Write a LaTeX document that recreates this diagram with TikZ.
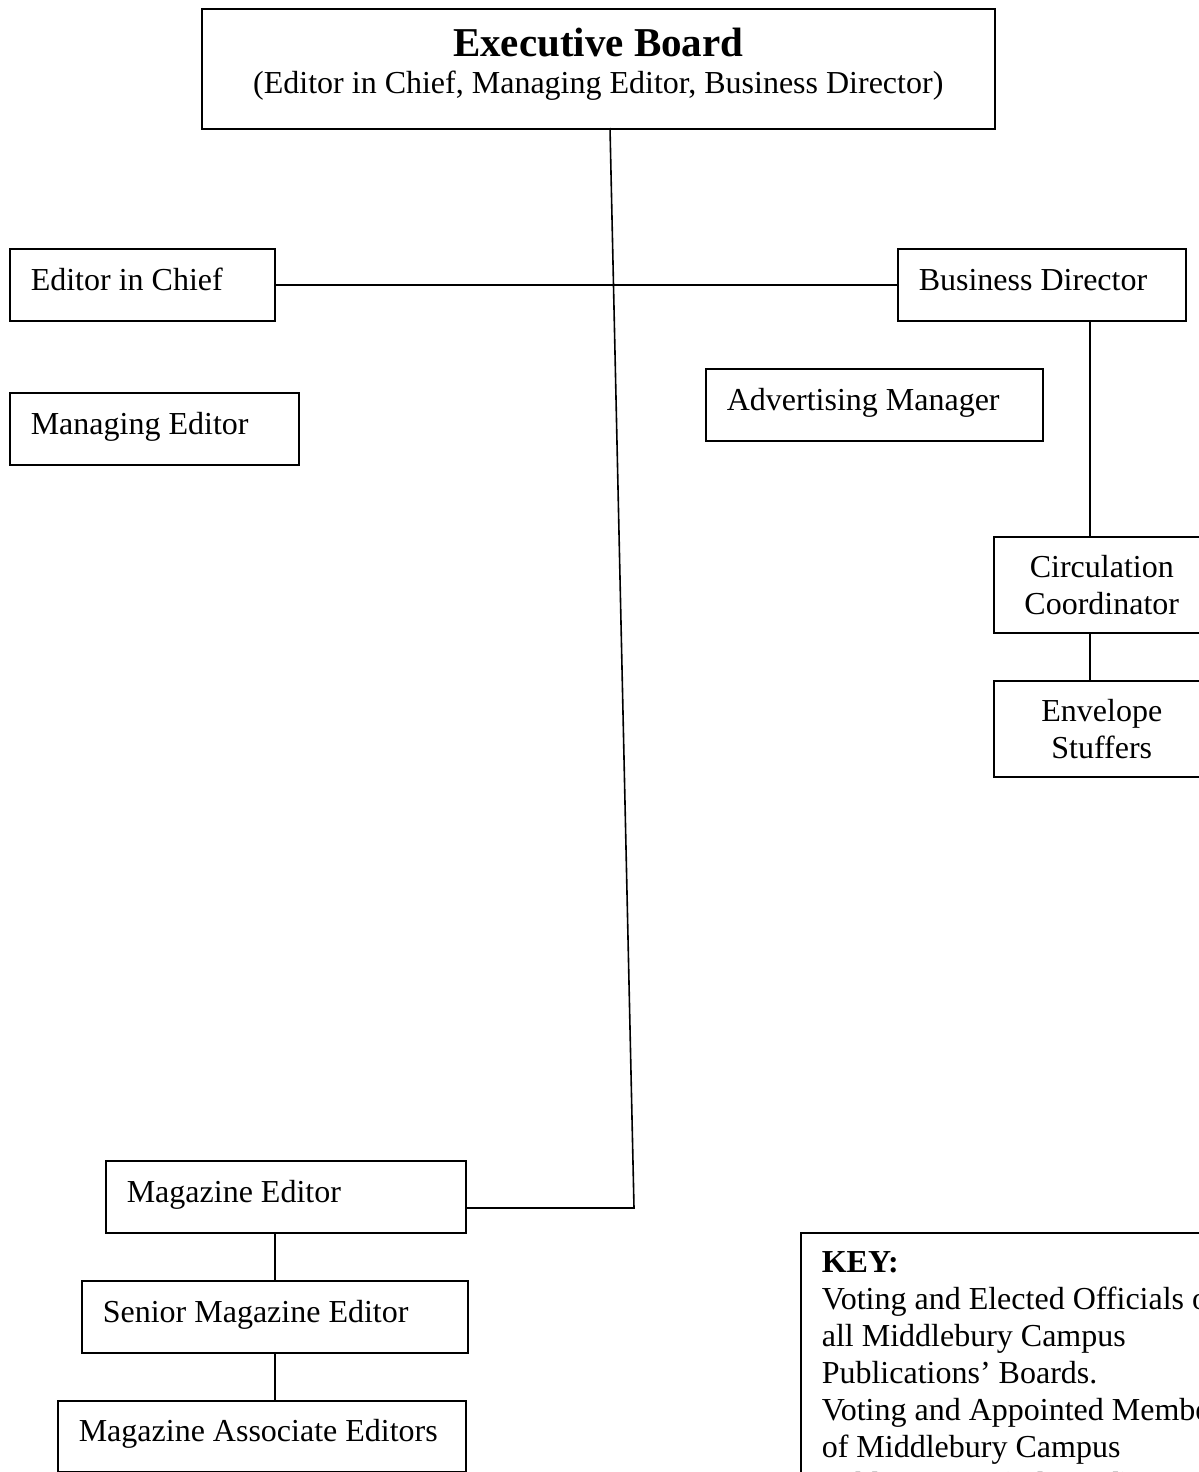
\documentclass[tikz,border=0pt]{standalone}
\usepackage{fontspec}
\setmainfont{Liberation Serif}
\newcommand{\lefttext}[2]{\makebox[#1][l]{#2}}
\begin{document}
\begin{tikzpicture}[x=1pt,y=-1pt,
  every node/.style={font=\fontsize{32}{37}\selectfont},
  box/.style={draw, line width=1.6pt, anchor=north west, inner xsep=21pt, inner ysep=0pt, minimum height=72pt, text height=23pt, text depth=12pt},
  cbox/.style={draw, line width=1.6pt, anchor=north west, inner sep=0pt, minimum height=96pt, align=center},
  link/.style={line width=1.6pt}]
\useasboundingbox (0,0) rectangle (1199,1472);
\node[draw, line width=1.6pt, minimum width=793pt, minimum height=120pt, align=center, anchor=north west, text depth=17pt] (eb) at (201,8)
  {{\fontsize{41}{41}\selectfont\bfseries Executive Board}\\(Editor in Chief, Managing Editor, Business Director)};
\node[box] (eic) at (9,248) {\lefttext{223pt}{Editor in Chief}};
\node[box] (mged) at (9,392) {\lefttext{247pt}{Managing Editor}};
\node[box] (bd) at (897,248) {\lefttext{246pt}{Business Director}};
\node[box] (am) at (705,368) {\lefttext{295pt}{Advertising Manager}};
\node[cbox, minimum width=216pt] (cc) at (993,536) {Circulation\\Coordinator};
\node[cbox, minimum width=216pt] (es) at (993,680) {Envelope\\Stuffers};
\node[box] (me) at (105,1160) {\lefttext{318pt}{Magazine Editor}};
\node[box] (sme) at (81,1280) {\lefttext{344pt}{Senior Magazine Editor}};
\node[box, minimum height=71pt] (mae) at (57,1400) {\lefttext{366pt}{Magazine Associate Editors}};
\node[draw, line width=1.6pt, anchor=north west, inner xsep=21pt, inner ysep=19pt, align=left] (key) at (800,1232)
  {\textbf{KEY:}\\Voting and Elected Officials of\\all Middlebury Campus\\Publications’ Boards.\\Voting and Appointed Members\\of Middlebury Campus\\Publications’ (Editorial) Boards.};
\coordinate (ebfoot) at (610,128);
\coordinate (mebend) at (634,1208);
\draw[link] (ebfoot) -- (mebend) -- (me.east |- mebend);
\draw[link] (eic.east) -- (bd.west);
\coordinate (bdfoot) at (1090,320);
\draw[link] (bdfoot) -- (bdfoot |- cc.north);
\draw[link] (bdfoot |- cc.south) -- (bdfoot |- es.north);
\draw[link] (sme.north) -- (sme.north |- me.south);
\draw[link] (sme.south) -- (sme.south |- mae.north);
\end{tikzpicture}
\end{document}
